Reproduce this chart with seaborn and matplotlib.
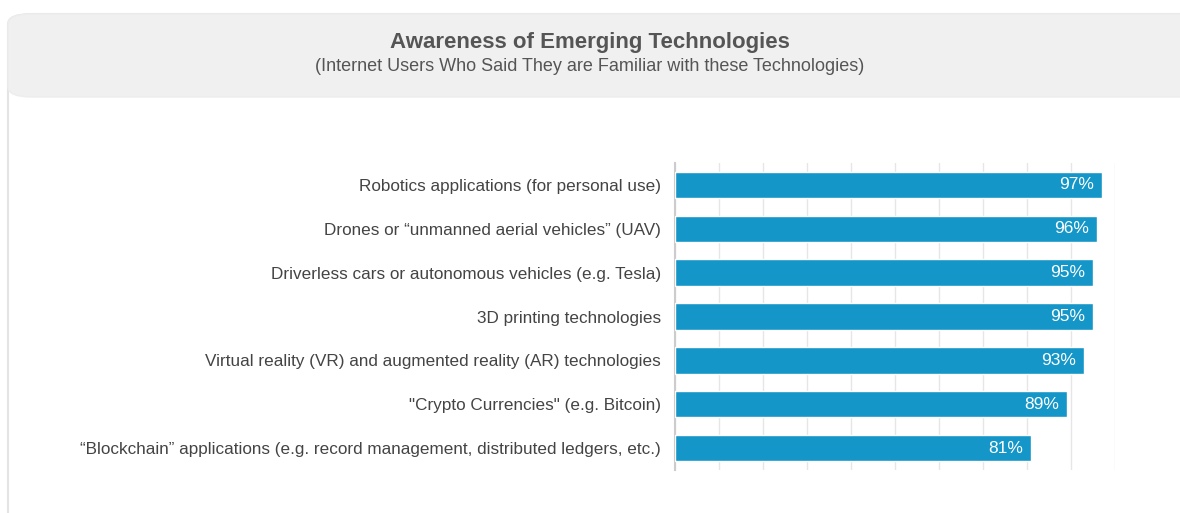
import matplotlib
matplotlib.use("Agg")
import matplotlib.pyplot as plt
from matplotlib.patches import FancyBboxPatch
import seaborn as sns
import pandas as pd

categories = [
    "Robotics applications (for personal use)",
    "Drones or \u201cunmanned aerial vehicles\u201d (UAV)",
    "Driverless cars or autonomous vehicles (e.g. Tesla)",
    "3D printing technologies",
    "Virtual reality (VR) and augmented reality (AR) technologies",
    "\"Crypto Currencies\" (e.g. Bitcoin)",
    "\u201cBlockchain\u201d applications (e.g. record management, distributed ledgers, etc.)",
]
values = [97, 96, 95, 95, 93, 89, 81]

title = "Awareness of Emerging Technologies"
subtitle = "(Internet Users Who Said They are Familiar with these Technologies)"

df = pd.DataFrame({"tech": categories, "pct": values})

sns.set_theme(style="white")
plt.rcParams["font.family"] = ["Liberation Sans", "DejaVu Sans"]

W, H = 1180, 513
fig = plt.figure(figsize=(W / 100, H / 100), dpi=100)

# card outline and title header
card = FancyBboxPatch((8 / W, -0.05), 1.2, (H - 14) / H + 0.05,
                      boxstyle="round,pad=0,rounding_size=0.02",
                      transform=fig.transFigure, facecolor="white",
                      edgecolor="#e4e4e4", linewidth=1.5, zorder=0)
fig.patches.append(card)
header = FancyBboxPatch((8 / W, 1 - 97 / H), 1.2, (97 - 14) / H,
                        boxstyle="round,pad=0,rounding_size=0.02",
                        transform=fig.transFigure, facecolor="#f0f0f0",
                        edgecolor="#ededed", linewidth=1, zorder=1)
fig.patches.append(header)

fig.text(590 / W, 1 - 43 / H, title, ha="center", va="center",
         fontsize=16, fontweight="bold", color="#555555", zorder=2)
fig.text(590 / W, 1 - 67 / H, subtitle, ha="center", va="center",
         fontsize=13, color="#555555", zorder=2)

ax = fig.add_axes([675 / W, 1 - 470 / H, 440 / W, (470 - 163) / H])
ax.set_zorder(5)
ax.patch.set_alpha(0)
sns.barplot(data=df, y="tech", x="pct", color="#1496c8", width=0.6,
            saturation=1, ax=ax, zorder=3)

ax.set_xlim(0, 100)
ax.set_xticks(range(0, 101, 10))
ax.set_xticklabels([])
ax.tick_params(axis="both", length=0)
ax.xaxis.grid(True, color="#e6e6e6", linewidth=1)
ax.set_axisbelow(True)
ax.set_xlabel("")
ax.set_ylabel("")
for s in ["top", "right", "bottom"]:
    ax.spines[s].set_visible(False)
ax.spines["left"].set_color("#cccccc")
ax.spines["left"].set_linewidth(1.5)
ax.tick_params(axis="y", labelsize=12.3, labelcolor="#444444", pad=10)

for i, v in enumerate(values):
    ax.text(v - 1.8, i, f"{v}%", ha="right", va="center",
            color="white", fontsize=12.5, zorder=4)

fig.savefig("out.png", dpi=100)
